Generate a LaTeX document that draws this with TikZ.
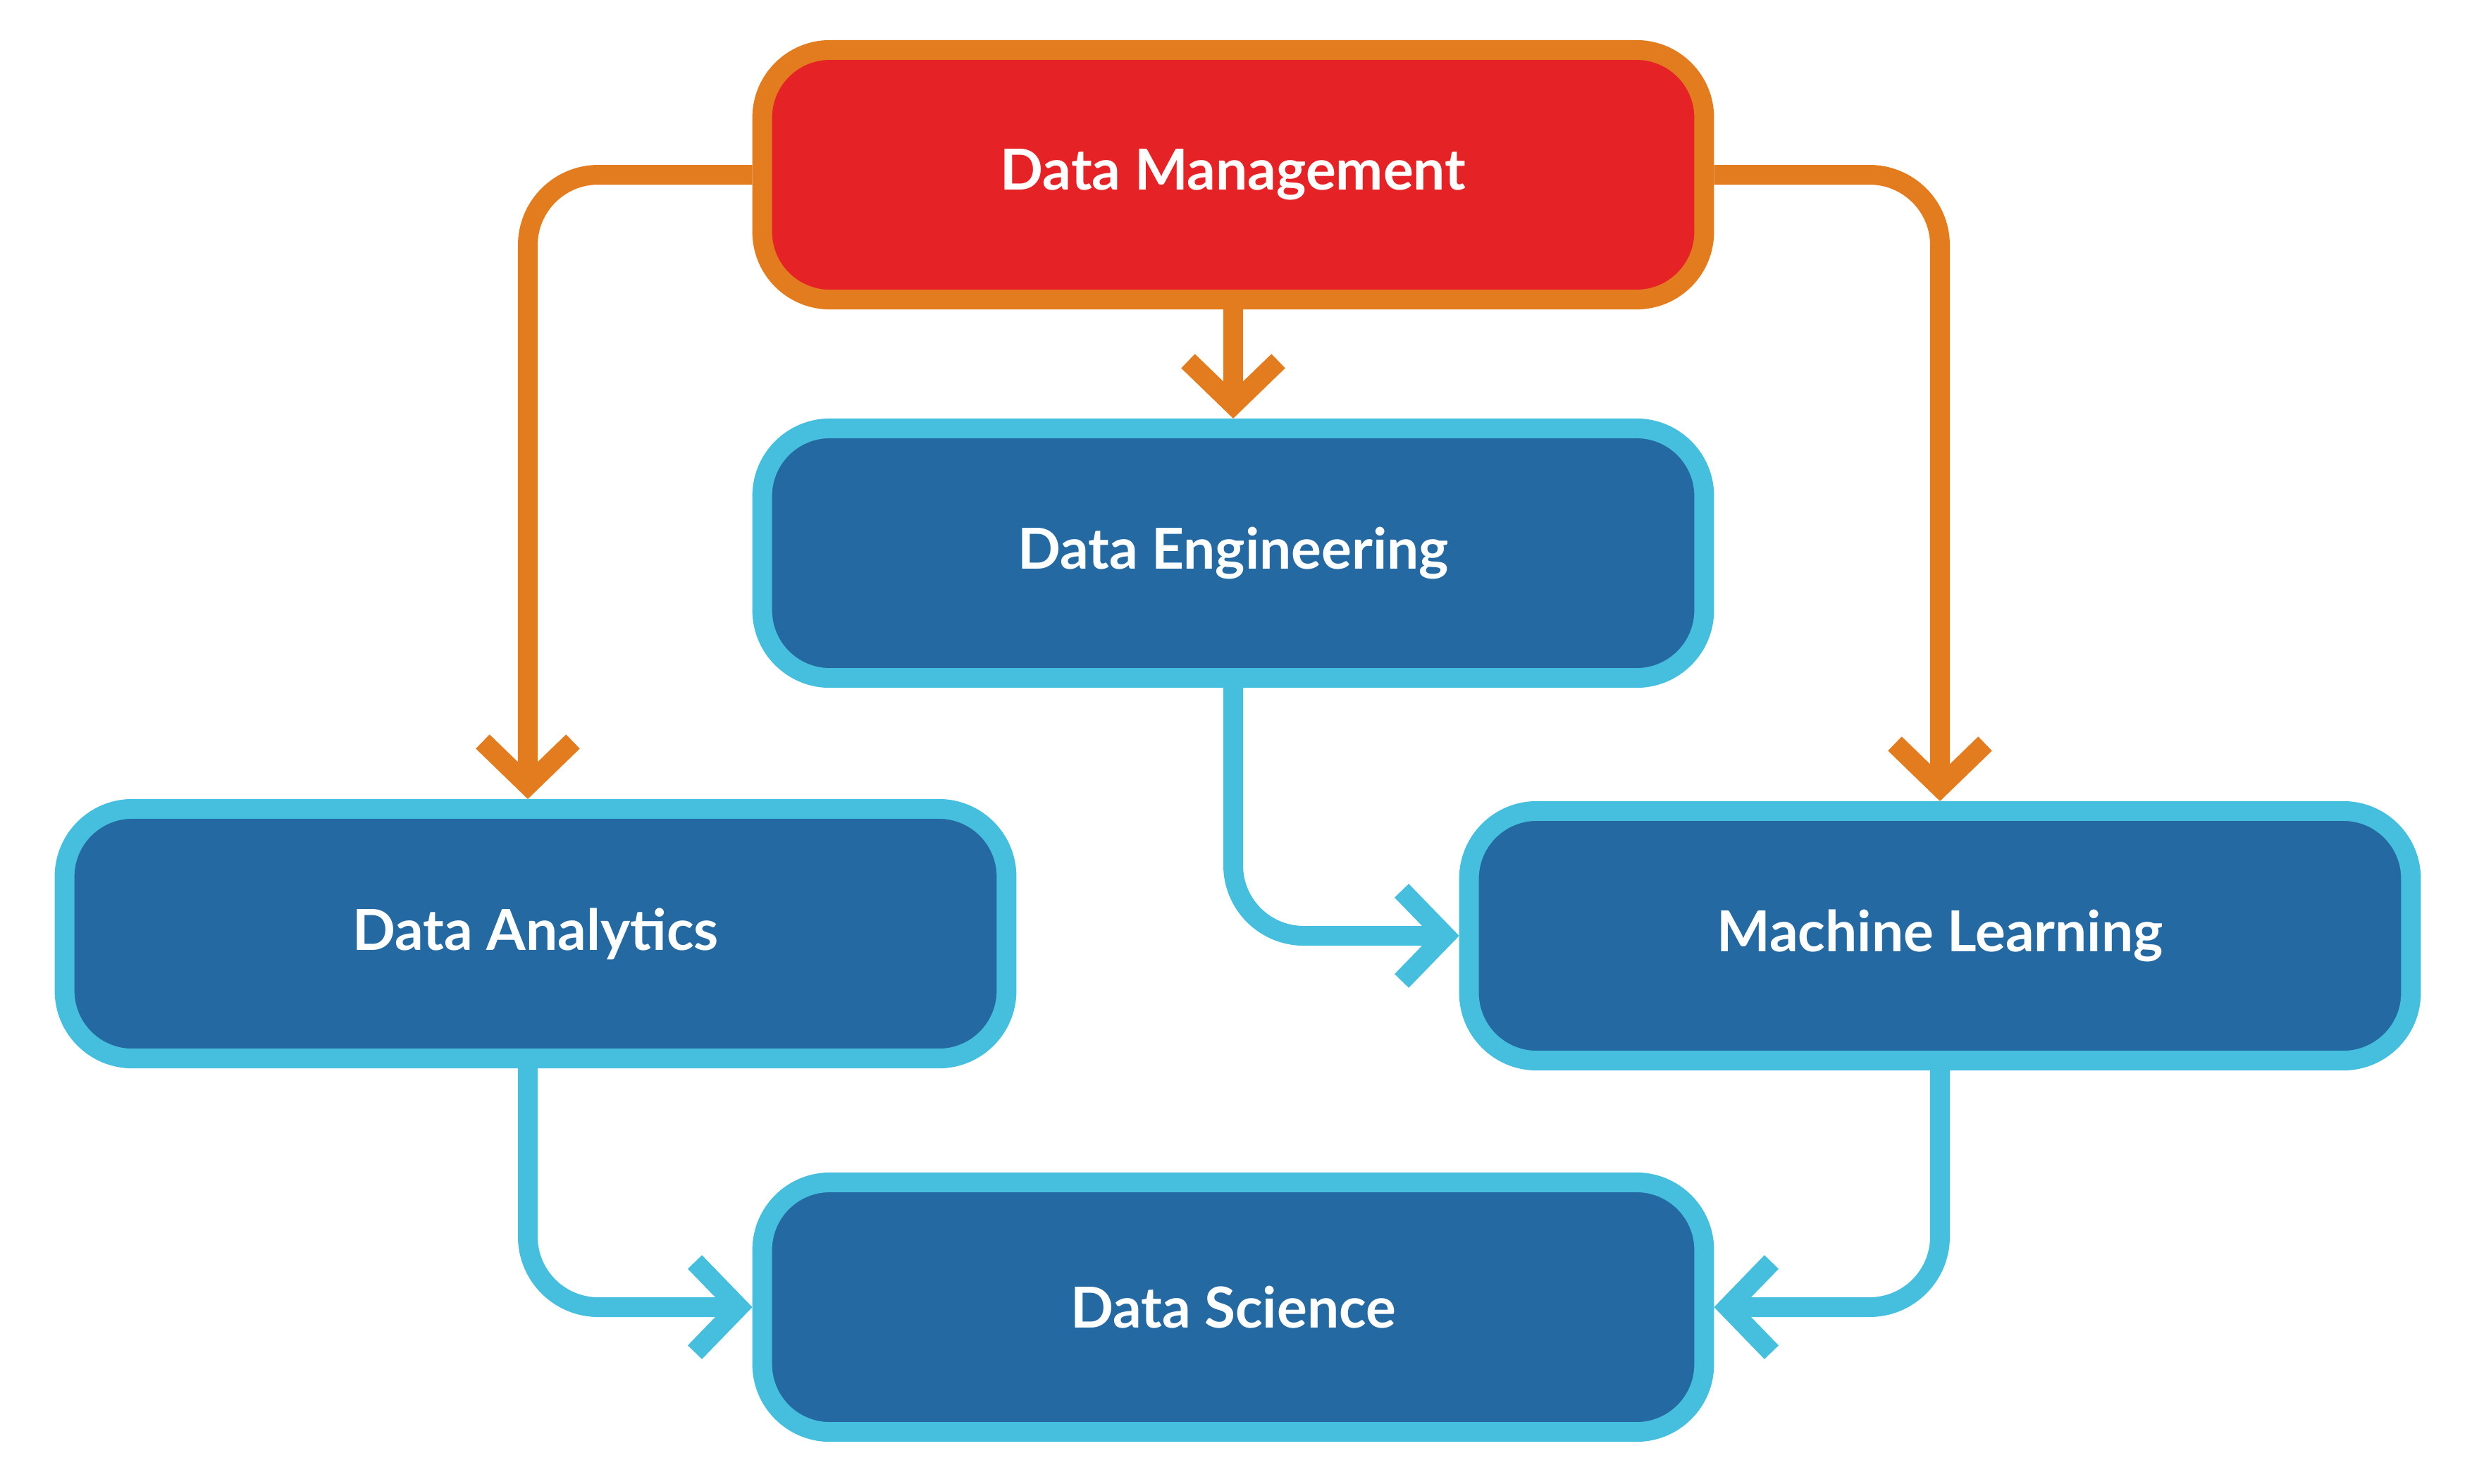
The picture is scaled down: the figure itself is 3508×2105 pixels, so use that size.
\documentclass[tikz,border=0pt]{standalone}
\usepackage{fontspec}
\setmainfont{Lato}
\usetikzlibrary{arrows.meta}
\definecolor{orng}{HTML}{E37C1F}
\definecolor{redf}{HTML}{E52327}
\definecolor{dblue}{HTML}{2469A1}
\definecolor{lblue}{HTML}{45BFDD}
\tikzset{
  box/.style={draw, line width=0.28cm, rounded corners=0.96cm,
    minimum width=13.36cm, minimum height=3.54cm, text=white,
    font=\fontsize{22.8}{25}\selectfont\bfseries},
  bluebox/.style={box, draw=lblue, fill=dblue},
  redbox/.style={box, draw=orng, fill=redf},
  conn/.style={line width=0.28cm, rounded corners=1cm,
    -{Straight Barb[length=0.62cm,width=1.28cm,sharp]}},
  oconn/.style={conn, draw=orng},
  bconn/.style={conn, draw=lblue}
}
\begin{document}
\begin{tikzpicture}[x=0.01cm,y=-0.01cm]
\useasboundingbox (0,0) rectangle (3508,2105);
\node[redbox]  (dm) at (1750,248)  {Data Management};
\node[bluebox] (de) at (1750,785)  {Data Engineering};
\node[bluebox] (da) at (760,1325)  {Data Analytics};
\node[bluebox] (ml) at (2753,1328) {Machine Learning};
\node[bluebox] (ds) at (1750,1855) {Data Science};
\draw[oconn] (dm.west) -| ([xshift=-0.11cm]da.north);
\draw[oconn] (dm.east) -| (ml.north);
\draw[oconn] (dm.south) -- (de.north);
\draw[bconn] (de.south) |- (ml.west);
\draw[bconn] ([xshift=-0.11cm]da.south) |- (ds.west);
\draw[bconn] (ml.south) |- (ds.east);
\end{tikzpicture}
\end{document}
